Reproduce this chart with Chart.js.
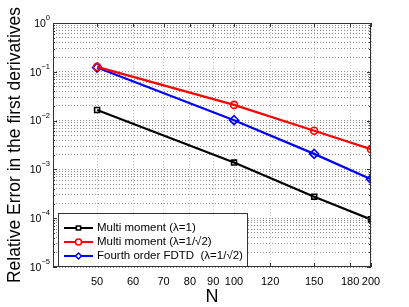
<!DOCTYPE html>
<html>
<head>
<meta charset="utf-8">
<script src="https://cdn.jsdelivr.net/npm/chart.js@4"></script>
<style>
  html, body { margin:0; padding:0; background:#fff; overflow:hidden; }
  canvas { display:block; }
</style>
</head>
<body>
<canvas id="errChart" width="409" height="307"></canvas>
<script>
// data
const N = [50, 100, 150, 200];
const multiMoment1 = [0.0165, 0.00138, 0.000276, 0.0000945];
const multiMomentSqrt2 = [0.126, 0.021, 0.0062, 0.0026];
const fdtd4 = [0.122, 0.0102, 0.00208, 0.00063];

const seriesLabels = ['Multi moment (λ=1)', 'Multi moment (λ=1/√2)', 'Fourth order FDTD  (λ=1/√2)'];
const xTicks = [50, 60, 70, 80, 90, 100, 120, 150, 180, 200];
const yTickExps = [0, -1, -2, -3, -4, -5];

const FONT = '"Liberation Sans", Arial, sans-serif';

// minor log positions for y grid
function yGridValues() {
  const out = [];
  for (let e = -5; e < 0; e++) for (let m = 1; m <= 9; m++) out.push(m * Math.pow(10, e));
  out.push(1);
  return out;
}

const pts = arr => arr.map((v, i) => ({ x: N[i], y: v }));

const boxPlugin = {
  id: 'boxPlugin',
  afterDraw(chart) {
    const { ctx, chartArea: a, scales: { x, y } } = chart;
    ctx.save();
    // box
    ctx.strokeStyle = '#333';
    ctx.lineWidth = 1;
    ctx.strokeRect(a.left + 0.5, a.top + 0.5, a.right - a.left - 1, a.bottom - a.top - 1);
    // inward ticks
    ctx.beginPath();
    xTicks.forEach(v => {
      const px = Math.round(x.getPixelForValue(v)) + 0.5;
      ctx.moveTo(px, a.bottom); ctx.lineTo(px, a.bottom - 4);
      ctx.moveTo(px, a.top); ctx.lineTo(px, a.top + 4);
    });
    yGridValues().forEach(v => {
      const py = Math.round(y.getPixelForValue(v)) + 0.5;
      const major = Math.abs(Math.log10(v) - Math.round(Math.log10(v))) < 1e-9;
      const len = major ? 4 : 2;
      ctx.moveTo(a.left, py); ctx.lineTo(a.left + len, py);
      ctx.moveTo(a.right, py); ctx.lineTo(a.right - len, py);
    });
    ctx.stroke();

    // y tick labels 10^k
    ctx.fillStyle = '#000';
    ctx.textBaseline = 'middle';
    yTickExps.forEach(e => {
      const py = y.getPixelForValue(Math.pow(10, e));
      const exp = e === 0 ? '0' : '\u2212' + (-e);
      ctx.font = '7.5px ' + FONT;
      const ew = ctx.measureText(exp).width;
      const right = a.left - 3;
      ctx.textAlign = 'left';
      ctx.fillText(exp, right - ew, py - 5);
      ctx.font = '10.5px ' + FONT;
      ctx.textAlign = 'right';
      ctx.fillText('10', right - ew, py + 1);
    });

    // legend box
    const lx = 58, ly = 213, lw = 189, lh = a.bottom - 213 - 1;
    ctx.fillStyle = '#fff';
    ctx.fillRect(lx, ly, lw, lh);
    ctx.strokeStyle = '#333';
    ctx.lineWidth = 1;
    ctx.strokeRect(lx + 0.5, ly + 0.5, lw, lh);
    const rows = [228, 242, 256];
    chart.data.datasets.forEach((ds, i) => {
      const ry = rows[i];
      ctx.strokeStyle = ds.borderColor;
      ctx.lineWidth = 2;
      ctx.beginPath();
      ctx.moveTo(64, ry); ctx.lineTo(93, ry);
      ctx.stroke();
      ctx.lineWidth = 1.5;
      ctx.fillStyle = '#fff';
      Chart.helpers.drawPoint(ctx, { pointStyle: ds.pointStyle, radius: 3, borderWidth: 1.5 }, 78.5, ry);
      ctx.fillStyle = '#000';
      ctx.font = '11.5px ' + FONT;
      ctx.textAlign = 'left';
      ctx.fillText(ds.label, 97, ry);
    });
    ctx.restore();
  }
};

const common = { borderWidth: 2.2, pointRadius: 3.5, pointBorderWidth: 1.6,
  pointBackgroundColor: 'rgba(0,0,0,0)', tension: 0, fill: false };

new Chart(document.getElementById('errChart'), {
  type: 'line',
  data: {
    datasets: [
      { ...common, label: seriesLabels[0], data: pts(multiMoment1), borderColor: '#000', pointBorderColor: '#000', pointStyle: 'rect' },
      { ...common, label: seriesLabels[1], data: pts(multiMomentSqrt2), borderColor: '#ff0000', pointBorderColor: '#ff0000', pointStyle: 'circle' },
      { ...common, label: seriesLabels[2], data: pts(fdtd4), borderColor: '#0000ff', pointBorderColor: '#0000ff', pointStyle: 'rectRot', pointRadius: 4.5 }
    ]
  },
  options: {
    responsive: false,
    animation: false,
    layout: { padding: { left: 0, right: 38, top: 23, bottom: 0 } },
    plugins: { legend: { display: false }, tooltip: { enabled: false } },
    scales: {
      x: {
        type: 'logarithmic', min: 40, max: 200,
        afterBuildTicks: s => { s.ticks = xTicks.map(v => ({ value: v })); },
        afterFit: s => { s.height = 40; },
        grid: { color: '#c4c4c4', drawTicks: false },
        border: { display: false, dash: [1, 2] },
        ticks: { autoSkip: false, maxRotation: 0, padding: 8, color: '#000',
          font: { family: FONT, size: 11 }, callback: v => String(v) },
        title: { display: true, text: 'N', color: '#000', padding: { top: 0, bottom: -1 },
          font: { family: FONT, size: 18 } }
      },
      y: {
        type: 'logarithmic', min: 1e-5, max: 1,
        afterBuildTicks: s => { s.ticks = yGridValues().map(v => ({ value: v })); },
        afterFit: s => { s.width = 53; },
        grid: { color: '#8a8a8a', drawTicks: false },
        border: { display: false, dash: [1, 2] },
        ticks: { autoSkip: false, display: true, color: 'rgba(0,0,0,0)', padding: 0, callback: () => '' },
        title: { display: true, text: 'Relative Error in the first derivatives', color: '#000',
          padding: { top: 5, bottom: 0 }, font: { family: FONT, size: 17.5 } }
      }
    }
  },
  plugins: [boxPlugin]
});
</script>
</body>
</html>
